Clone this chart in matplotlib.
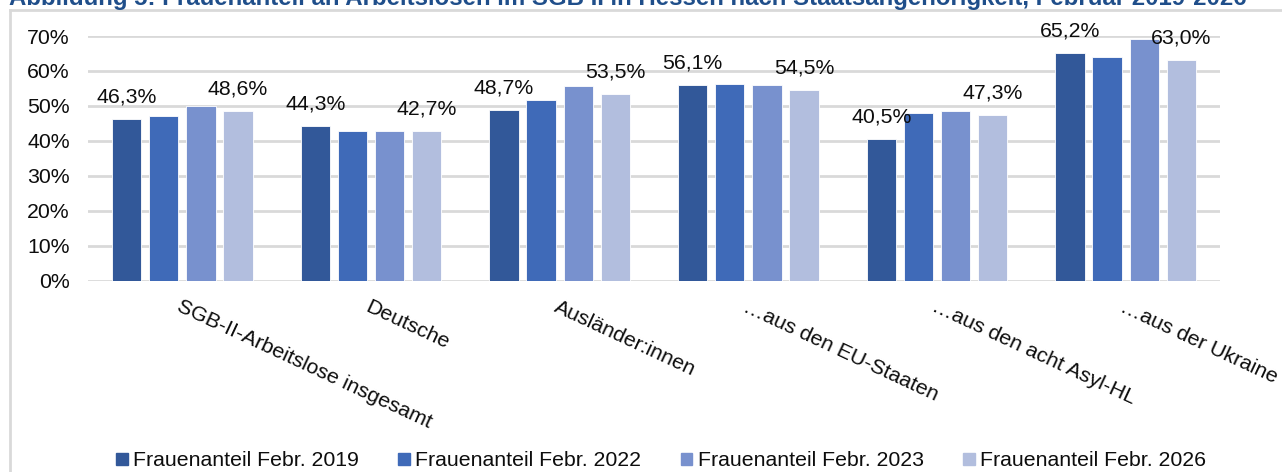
import matplotlib
matplotlib.use("Agg")
import matplotlib.pyplot as plt
from matplotlib.lines import Line2D
import numpy as np

plt.rcParams['font.family'] = ['Liberation Sans', 'DejaVu Sans']

categories = ["SGB-II-Arbeitslose insgesamt", "Deutsche", "Ausländer:innen",
              "…aus den EU-Staaten", "…aus den acht Asyl-HL", "…aus der Ukraine"]
series_names = ["Frauenanteil Febr. 2019", "Frauenanteil Febr. 2022",
                "Frauenanteil Febr. 2023", "Frauenanteil Febr. 2026"]
v2019 = [46.3, 44.3, 48.7, 56.1, 40.5, 65.2]
v2022 = [47.0, 42.9, 51.6, 56.2, 47.9, 64.0]
v2023 = [50.0, 42.9, 55.6, 55.9, 48.5, 69.1]
v2026 = [48.6, 42.7, 53.5, 54.5, 47.3, 63.0]
yticks = [0, 10, 20, 30, 40, 50, 60, 70]
title = ("Abbildung 5: Frauenanteil an Arbeitslosen im SGB II in Hessen nach "
         "Staatsangehörigkeit, Februar 2019-2026")

series = [v2019, v2022, v2023, v2026]
labelled = [True, False, False, True]
colors = ["#325899", "#3F6AB8", "#7891CE", "#B2BEDE"]

W, H = 1282, 472
fig = plt.figure(figsize=(W / 100, H / 100), dpi=100)
ax = fig.add_axes([88 / W, 1 - 280.5 / H, (1220 - 88) / W, (280.5 - 36) / H])

FS = 15.3
x = np.arange(len(categories))
pitch = 0.197
bw = 0.156
for j, (vals, col) in enumerate(zip(series, colors)):
    pos = x + (j - 1.5) * pitch
    ax.bar(pos, vals, width=bw, color=col, edgecolor="white",
           linewidth=0.6, label=series_names[j], zorder=3)
    if labelled[j]:
        for xi, v in zip(pos, vals):
            ax.annotate(f"{v:.1f}%".replace(".", ","), (xi, v),
                        xytext=(0, 9), textcoords="offset points",
                        ha="center", va="bottom", fontsize=FS,
                        color="#0d0d0d", zorder=5)

ax.set_xlim(-0.5, len(categories) - 0.5)
ax.set_ylim(0, 70)
ax.set_yticks(yticks)
ax.set_yticklabels([f"{t}%" for t in yticks], fontsize=FS, color="#0d0d0d")
ax.yaxis.grid(True, color="#D9D9D9", linewidth=2, zorder=0)
ax.set_axisbelow(True)
for s in ax.spines.values():
    s.set_visible(False)
ax.tick_params(axis="y", length=0, pad=13)
ax.tick_params(axis="x", length=0, pad=12)
ax.set_xticks(x)
ax.set_xticklabels(categories, rotation=-25, rotation_mode="anchor",
                   ha="left", va="top", fontsize=FS, color="#0d0d0d")
ax.patch.set_alpha(0)

# outer chart box (only top and left edge visible)
fig.add_artist(Line2D([10 / W, 10 / W], [0, 1 - 10 / H], transform=fig.transFigure,
                      color="#D9D9D9", linewidth=2))
fig.add_artist(Line2D([10 / W, 1], [1 - 10 / H, 1 - 10 / H], transform=fig.transFigure,
                      color="#D9D9D9", linewidth=2))

# title (cut off at top, as in the reference)
t = fig.text(9 / W, 1 - 5 / H, title, ha="left", va="baseline",
             fontsize=15, fontweight="bold", color="#1F4E8A")
fig.canvas.draw()
bb = t.get_window_extent()
t.set_fontsize(15 * 1241 / bb.width)

handles = [plt.Rectangle((0, 0), 1, 1, color=c) for c in colors]
fig.legend(handles, series_names, loc="center", bbox_to_anchor=(661 / W, 1 - 461 / H),
           ncol=4, frameon=False, fontsize=FS, handlelength=0.55, handleheight=0.55,
           handletextpad=0.25, columnspacing=1.85, borderpad=0, labelcolor="#0d0d0d")

fig.savefig("out.png", dpi=100)
